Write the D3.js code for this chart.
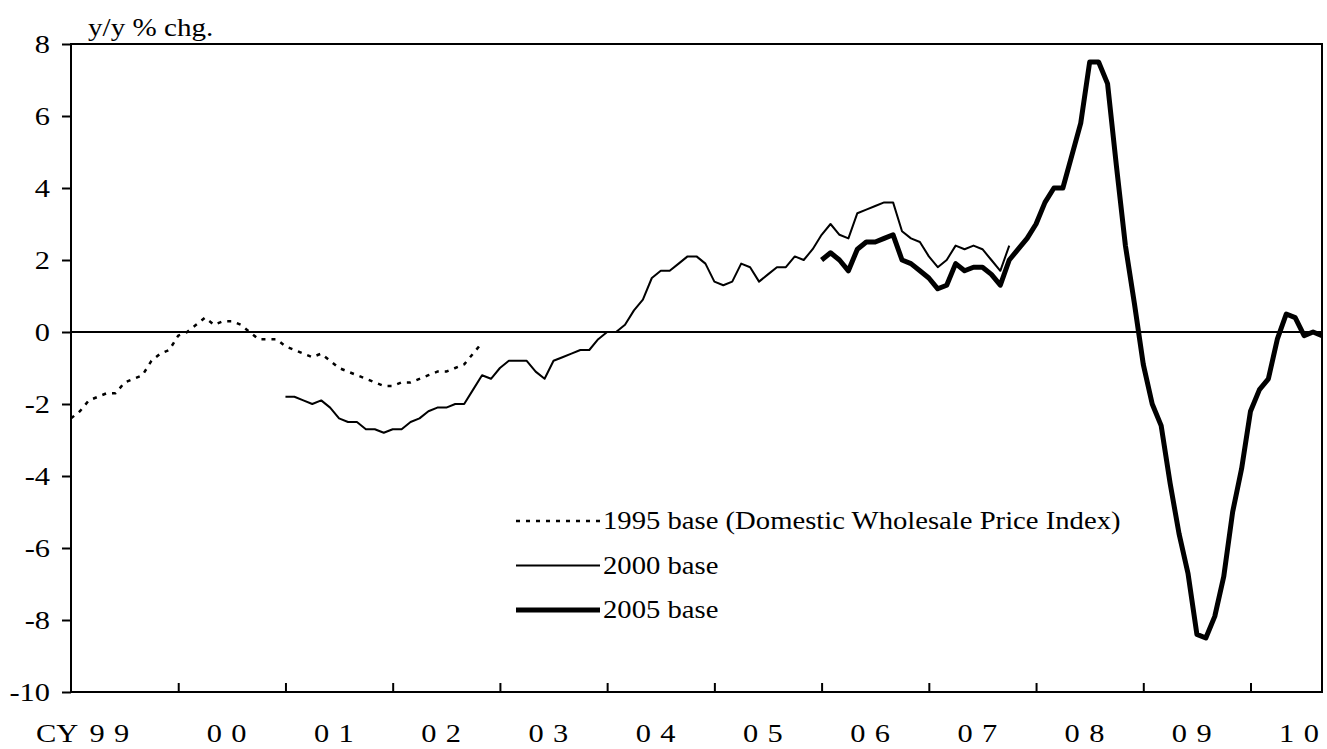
<!DOCTYPE html>
<html>
<head>
  <meta charset="utf-8">
  <script src="https://d3js.org/d3.v7.min.js"></script>
  <style>
    body { margin: 0; background: #fff; }
    text { font-family: "Liberation Serif", "Times New Roman", serif; fill: #000; }
    .axis path { display: none; }
    .axis line { stroke: #000; stroke-width: 2; }
  </style>
</head>
<body>
  <svg class="chart"></svg>
  <script>
    // months counted from Jan 1999 (index 0)
    var wpi1995Start = 0;
    var wpi1995 = [-2.4, -2.2, -1.9, -1.8, -1.7, -1.7, -1.4, -1.3, -1.2, -0.8, -0.6, -0.5,
      -0.1, 0.0, 0.2, 0.4, 0.2, 0.3, 0.3, 0.2, 0.0, -0.2, -0.2, -0.2,
      -0.4, -0.5, -0.6, -0.7, -0.6, -0.8, -1.0, -1.1, -1.2, -1.3, -1.4, -1.5,
      -1.5, -1.4, -1.4, -1.3, -1.2, -1.1, -1.1, -1.0, -0.9, -0.6, -0.3];

    var cgpi2000Start = 24;
    var cgpi2000 = [-1.8, -1.8, -1.9, -2.0, -1.9, -2.1, -2.4, -2.5, -2.5, -2.7, -2.7, -2.8,
      -2.7, -2.7, -2.5, -2.4, -2.2, -2.1, -2.1, -2.0, -2.0, -1.6, -1.2, -1.3,
      -1.0, -0.8, -0.8, -0.8, -1.1, -1.3, -0.8, -0.7, -0.6, -0.5, -0.5, -0.2,
      0.0, 0.0, 0.2, 0.6, 0.9, 1.5, 1.7, 1.7, 1.9, 2.1, 2.1, 1.9,
      1.4, 1.3, 1.4, 1.9, 1.8, 1.4, 1.6, 1.8, 1.8, 2.1, 2.0, 2.3,
      2.7, 3.0, 2.7, 2.6, 3.3, 3.4, 3.5, 3.6, 3.6, 2.8, 2.6, 2.5,
      2.1, 1.8, 2.0, 2.4, 2.3, 2.4, 2.3, 2.0, 1.7, 2.4];

    var cgpi2005Start = 84;
    var cgpi2005 = [2.0, 2.2, 2.0, 1.7, 2.3, 2.5, 2.5, 2.6, 2.7, 2.0, 1.9, 1.7,
      1.5, 1.2, 1.3, 1.9, 1.7, 1.8, 1.8, 1.6, 1.3, 2.0, 2.3, 2.6,
      3.0, 3.6, 4.0, 4.0, 4.9, 5.8, 7.5, 7.5, 6.9, 4.6, 2.4, 0.8,
      -0.9, -2.0, -2.6, -4.2, -5.6, -6.7, -8.4, -8.5, -7.9, -6.8, -5.0, -3.8,
      -2.2, -1.6, -1.3, -0.2, 0.5, 0.4, -0.1, 0.0, -0.1];

    var yearLabels = ['99', '00', '01', '02', '03', '04', '05', '06', '07', '08', '09', '10'];
    var yTicks = [-10, -8, -6, -4, -2, 0, 2, 4, 6, 8];
    var legendNames = ['1995 base (Domestic Wholesale Price Index)', '2000 base', '2005 base'];

    var W = 1327, H = 749;
    var mLeft = 71, mRight = 1322, mTop = 44, mBottom = 692;
    var sx = 1.17; // text is drawn a bit wide in the original

    var svg = d3.select('.chart').attr('width', W).attr('height', H);

    var x = d3.scaleLinear().domain([0, 140]).range([mLeft, mRight]);
    var y = d3.scaleLinear().domain([-10, 8]).range([mBottom, mTop]);

    // y axis
    var yAxis = svg.append('g')
      .attr('class', 'axis')
      .attr('transform', 'translate(' + mLeft + ',0)')
      .call(d3.axisLeft(y).tickValues(yTicks).tickSize(9)
        .tickFormat(function (d) { return String(d); }));
    yAxis.selectAll('text')
      .attr('font-size', 26)
      .attr('x', -21 / sx)
      .attr('dy', '0.33em')
      .attr('transform', 'scale(' + sx + ',1)');

    // x axis: year ticks pointing inward
    var yearTicks = d3.range(12, 140, 12);
    svg.append('g')
      .attr('class', 'axis')
      .attr('transform', 'translate(0,' + mBottom + ')')
      .call(d3.axisBottom(x).tickValues(yearTicks).tickSize(-9).tickFormat(''));

    // year labels at mid-year
    var midYears = yearLabels.map(function (d, i) { return i * 12 + 6; });
    var xLab = svg.append('g')
      .attr('class', 'axis')
      .attr('transform', 'translate(-1,' + mBottom + ')')
      .call(d3.axisBottom(x).tickValues(midYears).tickSize(0)
        .tickFormat(function (d, i) { return yearLabels[i]; }));
    xLab.selectAll('line').remove();
    xLab.selectAll('text')
      .attr('font-size', 26)
      .attr('letter-spacing', 8)
      .attr('y', 0)
      .attr('dy', 50)
      .attr('transform', function (d, i) {
        return (i === 0 ? 'translate(-10,0) ' : '') + 'scale(' + sx + ',1)';
      });

    svg.append('text')
      .attr('font-size', 26)
      .attr('transform', 'translate(36,742) scale(' + sx + ',1)')
      .text('CY');

    svg.append('text')
      .attr('font-size', 26)
      .attr('transform', 'translate(88,36) scale(' + (sx - 0.05) + ',1)')
      .text('y/y % chg.');

    // frame and zero line
    svg.append('rect')
      .attr('x', mLeft).attr('y', mTop)
      .attr('width', mRight - mLeft).attr('height', mBottom - mTop)
      .attr('fill', 'none').attr('stroke', '#000').attr('stroke-width', 2);
    svg.append('line')
      .attr('x1', mLeft).attr('x2', mRight)
      .attr('y1', y(0)).attr('y2', y(0))
      .attr('stroke', '#000').attr('stroke-width', 2);

    var line = d3.line()
      .x(function (d) { return x(d.i); })
      .y(function (d) { return y(d.v); });

    function pts(values, start) {
      return values.map(function (v, k) { return { i: start + k, v: v }; });
    }

    var styles = [
      { width: 2.5, dash: '4,6' },
      { width: 2, dash: null },
      { width: 5, dash: null }
    ];
    var series = [pts(wpi1995, wpi1995Start), pts(cgpi2000, cgpi2000Start), pts(cgpi2005, cgpi2005Start)];

    svg.append('clipPath').attr('id', 'plot')
      .append('rect')
      .attr('x', mLeft).attr('y', mTop)
      .attr('width', mRight - mLeft).attr('height', mBottom - mTop);

    series.forEach(function (s, k) {
      svg.append('path')
        .datum(s)
        .attr('clip-path', 'url(#plot)')
        .attr('fill', 'none')
        .attr('stroke', '#000')
        .attr('stroke-width', styles[k].width)
        .attr('stroke-dasharray', styles[k].dash)
        .attr('stroke-linejoin', 'round')
        .attr('d', line);
    });

    // legend
    var legend = svg.append('g').attr('transform', 'translate(516,521)');
    legendNames.forEach(function (name, k) {
      var row = legend.append('g').attr('transform', 'translate(0,' + (k * 44.5) + ')');
      row.append('line')
        .attr('x1', 0).attr('x2', 84)
        .attr('stroke', '#000')
        .attr('stroke-width', styles[k].width)
        .attr('stroke-dasharray', styles[k].dash);
      row.append('text')
        .attr('font-size', 24.5)
        .attr('dy', '0.33em')
        .attr('transform', 'translate(87,0) scale(' + sx + ',1)')
        .text(name);
    });
  </script>
</body>
</html>
